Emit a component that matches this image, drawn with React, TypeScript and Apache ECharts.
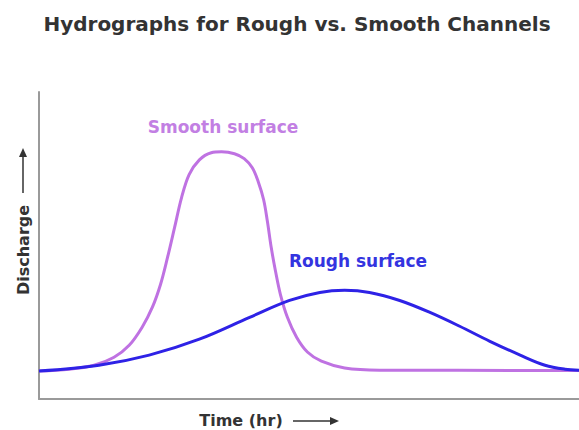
import React, { useEffect, useRef } from "react";
import * as echarts from "echarts";

const titleText = "Hydrographs for Rough vs. Smooth Channels";
const smoothLabel = "Smooth surface";
const roughLabel = "Rough surface";
const xName = "Time (hr)";
const yName = "Discharge";

// Smooth channel hydrograph (time units 0..100, discharge units 0..100)
const smoothTime = [0, 5.6, 10.2, 13.9, 16.7, 19.1, 21.0, 22.5, 23.8, 25.1, 26.4, 27.8, 29.7, 31.9, 33.8, 36.2, 38.0, 39.5, 40.6, 41.6, 42.3, 43.0, 43.8, 44.7, 46.0, 47.7, 49.7, 52.3, 56.6, 63.1, 100];
const smoothQ = [9.1, 9.7, 11.0, 13.6, 17.5, 23.4, 29.9, 37.3, 46.1, 55.8, 65.6, 73.1, 77.9, 80.2, 80.5, 79.9, 78.3, 75.3, 70.8, 64.9, 57.8, 49.4, 41.6, 34.1, 26.6, 20.1, 15.3, 12.3, 10.1, 9.4, 9.3];

// Rough channel hydrograph
const roughTime = [0, 11.1, 20.4, 29.7, 39.0, 46.4, 52.0, 56.6, 61.2, 66.8, 72.4, 77.9, 83.5, 89.1, 93.7, 97.4, 100];
const roughQ = [9.1, 11.0, 14.3, 19.5, 26.6, 32.1, 34.7, 35.4, 34.7, 32.1, 28.2, 23.7, 18.8, 14.3, 11.0, 9.7, 9.4];

const smoothColor = "#bf72e2";
const roughColor = "#2e22e6";
const smoothTextColor = "#c27fe3";
const roughTextColor = "#3434e0";
const FONT = "DejaVu Sans";

export default function App() {
  const ref = useRef<HTMLDivElement>(null);
  useEffect(() => {
    if (!ref.current) return;
    const chart = echarts.init(ref.current, undefined, { renderer: "svg" });
    const smoothData = smoothTime.map((t, i) => [t, smoothQ[i]]);
    const roughData = roughTime.map((t, i) => [t, roughQ[i]]);
    chart.setOption({
      animation: false,
      backgroundColor: "#ffffff",
      title: {
        text: titleText,
        left: 292,
        textAlign: "center",
        top: 9,
        textStyle: { fontFamily: FONT, fontSize: 20, fontWeight: "bold", color: "#333333" },
      },
      grid: { left: 39, top: 92, right: 0, bottom: 31 },
      xAxis: {
        type: "value",
        min: 0,
        max: 100,
        axisLine: { show: true, lineStyle: { color: "#9a9a9a", width: 2 } },
        axisTick: { show: false },
        axisLabel: { show: false },
        splitLine: { show: false },
      },
      yAxis: {
        type: "value",
        min: 0,
        max: 100,
        axisLine: { show: true, lineStyle: { color: "#9a9a9a", width: 2 } },
        axisTick: { show: false },
        axisLabel: { show: false },
        splitLine: { show: false },
      },
      series: [
        {
          name: smoothLabel,
          type: "line",
          data: smoothData,
          smooth: 0.35,
          symbol: "none",
          lineStyle: { color: smoothColor, width: 3 },
        },
        {
          name: roughLabel,
          type: "line",
          data: roughData,
          smooth: 0.35,
          symbol: "none",
          lineStyle: { color: roughColor, width: 3 },
        },
      ],
      graphic: [
        {
          type: "text",
          x: 223,
          y: 127,
          style: {
            text: smoothLabel,
            fontFamily: FONT,
            fontSize: 17,
            fontWeight: "bold",
            fill: smoothTextColor,
            align: "center",
            verticalAlign: "middle",
          },
        },
        {
          type: "text",
          x: 358,
          y: 261,
          style: {
            text: roughLabel,
            fontFamily: FONT,
            fontSize: 17,
            fontWeight: "bold",
            fill: roughTextColor,
            align: "center",
            verticalAlign: "middle",
          },
        },
        {
          type: "text",
          x: 241,
          y: 420,
          style: {
            text: xName,
            fontFamily: FONT,
            fontSize: 16,
            fontWeight: "bold",
            fill: "#333333",
            align: "center",
            verticalAlign: "middle",
          },
        },
        {
          type: "line",
          shape: { x1: 293, y1: 421, x2: 331, y2: 421 },
          style: { stroke: "#333333", lineWidth: 1.5 },
        },
        {
          type: "polygon",
          shape: { points: [[330, 417], [339, 421], [330, 425]] },
          style: { fill: "#333333" },
        },
        {
          type: "text",
          x: 23,
          y: 250,
          rotation: Math.PI / 2,
          style: {
            text: yName,
            fontFamily: FONT,
            fontSize: 16,
            fontWeight: "bold",
            fill: "#333333",
            align: "center",
            verticalAlign: "middle",
          },
        },
        {
          type: "line",
          shape: { x1: 23, y1: 193, x2: 23, y2: 156 },
          style: { stroke: "#333333", lineWidth: 1.5 },
        },
        {
          type: "polygon",
          shape: { points: [[19, 157], [23, 148], [27, 157]] },
          style: { fill: "#333333" },
        },
      ],
    });
    return () => chart.dispose();
  }, []);
  return (
    <div
      ref={ref}
      style={{ position: "absolute", left: 0, top: 0, width: 579, height: 430 }}
    />
  );
}
